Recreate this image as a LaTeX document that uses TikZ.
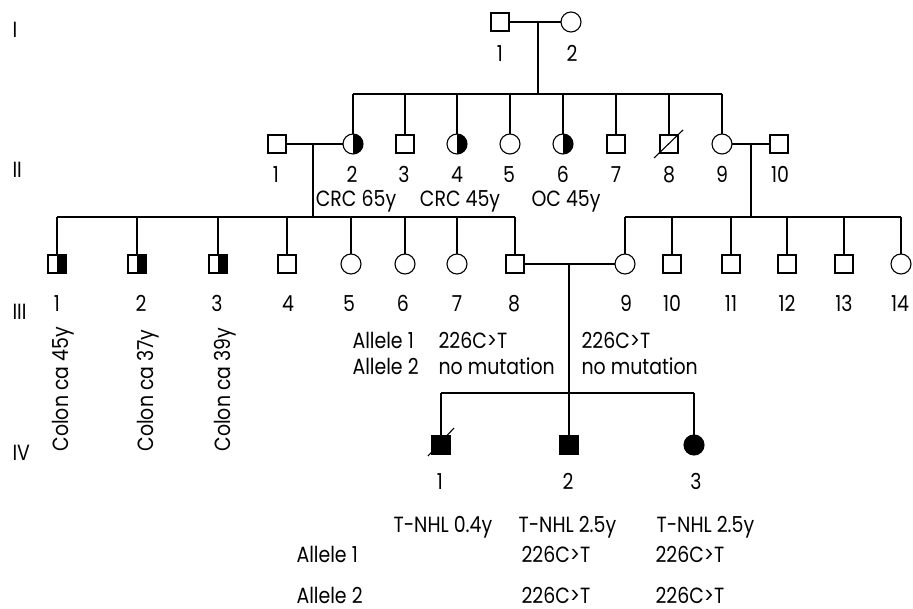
\documentclass[tikz,border=0pt]{standalone}
\usepackage{fontspec}
\setmainfont{Poppins}[FakeStretch=0.86]
\usetikzlibrary{calc}
\begin{document}
\begin{tikzpicture}[x=1pt,y=-1pt,line width=1.1pt,
  male/.style={draw,rectangle,minimum size=18pt,inner sep=0pt,outer sep=0pt},
  female/.style={draw,circle,minimum size=20pt,inner sep=0pt,outer sep=0pt},
  lbl/.style={font=\fontsize{22}{26}\selectfont,inner sep=0pt,anchor=base},
  lblw/.style={lbl,anchor=base west},
  rotlbl/.style={lbl,anchor=base west,rotate=90}]
\useasboundingbox (0,0) rectangle (913,609);

% generation labels
\node[lblw] (gI) at (12,38) {I};
\node[lblw] (gII) at (12,178) {II};
\node[lblw] (gIII) at (12,320) {III};
\node[lblw] (gIV) at (12,460) {IV};

% Generation I
\node[male] (i1) at (500,22) {};
\node[female] (i2) at (571,22) {};
\node[lbl] (ni1) at (500,62) {1};
\node[lbl] (ni2) at (572,62) {2};

% Generation II
\node[male] (ii1) at (277,144) {};
\node[female] (ii2) at (353,144) {};
\node[male] (ii3) at (405,144) {};
\node[female] (ii4) at (457,144) {};
\node[female] (ii5) at (510,144) {};
\node[female] (ii6) at (563,144) {};
\node[male] (ii7) at (616,144) {};
\node[male] (ii8) at (669,144) {};
\node[female] (ii9) at (722,144) {};
\node[male] (ii10) at (779,144) {};
\foreach \n in {ii2,ii4,ii6}
  \fill (\n.north) arc[start angle=90,end angle=-90,radius=10pt] -- cycle;
\draw ($(ii8.center)+(-15,14)$) -- ($(ii8.center)+(14,-14)$);

\node[lbl] (nii1) at (276,183) {1};
\node[lbl] (nii2) at (352,183) {2};
\node[lbl] (nii3) at (404,183) {3};
\node[lbl] (nii4) at (457,183) {4};
\node[lbl] (nii5) at (509,183) {5};
\node[lbl] (nii6) at (563,183) {6};
\node[lbl] (nii7) at (616,183) {7};
\node[lbl] (nii8) at (669,183) {8};
\node[lbl] (nii9) at (722,183) {9};
\node[lbl] (nii10) at (780,183) {10};
\node[lbl] (crc1) at (356,207) {CRC 65y};
\node[lbl] (crc2) at (460,207) {CRC 45y};
\node[lbl] (oc) at (566,207) {OC 45y};

% Generation III
\node[male] (iii1) at (57,264) {};
\node[male] (iii2) at (137,264) {};
\node[male] (iii3) at (218,264) {};
\node[male] (iii4) at (287,264) {};
\node[female] (iii5) at (351,264) {};
\node[female] (iii6) at (405,264) {};
\node[female] (iii7) at (457,264) {};
\node[male] (iii8) at (515,264) {};
\node[female] (iii9) at (625,264) {};
\node[male] (iii10) at (672,264) {};
\node[male] (iii11) at (731,264) {};
\node[male] (iii12) at (787,264) {};
\node[male] (iii13) at (844,264) {};
\node[female] (iii14) at (901,264) {};
\foreach \n in {iii1,iii2,iii3}
  \fill (\n.north) rectangle (\n.south east);

\foreach \n/\x in {1/57,2/141,3/217,4/288,5/349,6/403,7/457,8/514,9/626,10/672,11/731,12/787,13/844,14/900}
  \node[lbl] (niii\n) at (\x,312) {\n};

\node[rotlbl] (col1) at (68,452) {Colon ca 45y};
\node[rotlbl] (col2) at (153,452) {Colon ca 37y};
\node[rotlbl] (col3) at (230,452) {Colon ca 39y};

\node[lblw] (a1) at (352,349) {Allele 1};
\node[lblw] (a2) at (352,375) {Allele 2};
\node[lblw] (a1v8) at (438,349) {226C\textgreater T};
\node[lblw] (a2v8) at (438,375) {no mutation};
\node[lblw] (a1v9) at (581,349) {226C\textgreater T};
\node[lblw] (a2v9) at (581,375) {no mutation};

% Generation IV
\node[male,fill] (iv1) at (441,445) {};
\node[male,fill] (iv2) at (569,445) {};
\node[female,fill] (iv3) at (694,445) {};
\draw ($(iv1.center)+(-13,11)$) -- ($(iv1.center)+(13,-17)$);
\node[lbl] (niv1) at (440,489) {1};
\node[lbl] (niv2) at (568,489) {2};
\node[lbl] (niv3) at (696,489) {3};

\node[lblw] (t1) at (393,532) {T-NHL 0.4y};
\node[lblw] (t2) at (518,532) {T-NHL 2.5y};
\node[lblw] (t3) at (656,532) {T-NHL 2.5y};
\node[lblw] (b1) at (296,562) {Allele 1};
\node[lblw] (b2) at (296,603) {Allele 2};
\node[lblw] (b1v2) at (521,562) {226C\textgreater T};
\node[lblw] (b2v2) at (521,603) {226C\textgreater T};
\node[lblw] (b1v3) at (655,562) {226C\textgreater T};
\node[lblw] (b2v3) at (655,603) {226C\textgreater T};

% connectors
\coordinate (dI) at (538,22);
\coordinate (sI) at (538,94);
\draw (i1) -- (i2);
\draw (dI) -- (sI);
\draw (ii2.north |- sI) -- (ii9.north |- sI);
\foreach \n in {ii2,ii3,ii4,ii5,ii6,ii7,ii8,ii9}
  \draw (\n.north |- sI) -- (\n.north);

\coordinate (dII) at (313,144);
\coordinate (sII) at (313,217);
\draw (ii1) -- (ii2);
\draw (dII) -- (sII);
\draw (iii1.north |- sII) -- (iii8.north |- sII);
\foreach \n in {iii1,iii2,iii3,iii4,iii5,iii6,iii7,iii8}
  \draw (\n.north |- sII) -- (\n.north);

\coordinate (dIIb) at (751,144);
\coordinate (sIIb) at (751,217);
\draw (ii9) -- (ii10);
\draw (dIIb) -- (sIIb);
\draw (iii9.north |- sIIb) -- (iii14.north |- sIIb);
\foreach \n in {iii9,iii10,iii11,iii12,iii13,iii14}
  \draw (\n.north |- sIIb) -- (\n.north);

\coordinate (dIII) at (569,264);
\coordinate (sIII) at (569,393);
\draw (iii8) -- (iii9);
\draw (dIII) -- (sIII);
\draw (iv1.north |- sIII) -- (iv3.north |- sIII);
\foreach \n in {iv1,iv2,iv3}
  \draw (\n.north |- sIII) -- (\n.north);
\end{tikzpicture}
\end{document}
